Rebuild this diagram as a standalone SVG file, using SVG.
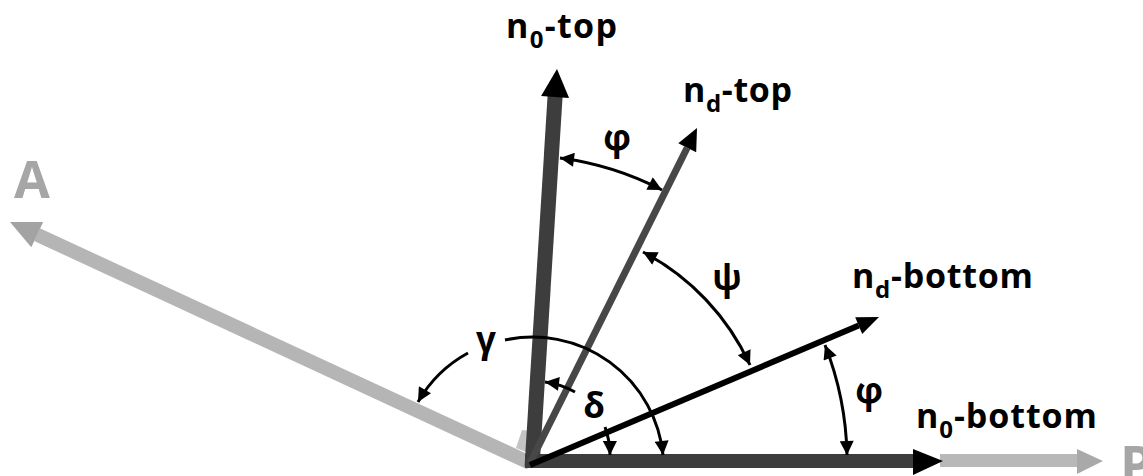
<svg xmlns="http://www.w3.org/2000/svg" width="1143" height="476" viewBox="0 0 1143 476">
<style>
.lbl{font-family:"Open Sans","Liberation Sans",sans-serif;font-weight:bold;font-size:34px;fill:#000}
.sub{font-size:24px}
.gr{font-family:"Open Sans","Liberation Sans",sans-serif;font-weight:bold;font-size:35px;fill:#000;text-anchor:middle}
.big{font-family:"Open Sans","Liberation Sans",sans-serif;font-weight:bold;font-size:52px;fill:#a6a6a6}
.arc{fill:none;stroke:#000;stroke-width:3}
</style>
<defs>
<marker id="ah" viewBox="0 0 10 10" refX="10" refY="5" markerWidth="16" markerHeight="14" markerUnits="userSpaceOnUse" orient="auto-start-reverse">
<path d="M0,0 L10,5 L0,10 z" fill="#000"/>
</marker>
</defs>
<rect width="1143" height="476" fill="#fff"/>
<g id="vec-A">
<polygon points="516,448 522,430 531,431 531,454" fill="#c4c4c4"/>
<line x1="530" y1="463" x2="37" y2="234.6" stroke="#b5b5b5" stroke-width="14"/>
<polygon points="10,222 43.1,221.9 31.3,247.3" fill="#a3a3a3"/>
</g>
<g id="vec-P">
<rect x="940" y="454" width="138" height="13" fill="#b8b8b8"/>
<polygon points="1077,449 1103,461 1077,474" fill="#a9a9a9"/>
</g>
<g id="vec-n0-bottom">
<rect x="525" y="454" width="390" height="14" fill="#3d3d3d"/>
<polygon points="913,449 943,461 913,475" fill="#000"/>
</g>
<g id="vec-n0-top">
<line x1="532" y1="467" x2="555.1" y2="96" stroke="#3d3d3d" stroke-width="15"/>
<polygon points="557,69 569.1,97.9 541.1,95.9" fill="#000"/>
</g>
<g id="vec-nd-top">
<line x1="530" y1="463" x2="687.2" y2="147.7" stroke="#474747" stroke-width="7"/>
<polygon points="697,128 696.2,152.2 678.3,143.2" fill="#000"/>
</g>
<g id="vec-nd-bottom">
<line x1="530" y1="465" x2="858.7" y2="325.6" stroke="#000" stroke-width="6"/>
<polygon points="879,317 862.2,333.9 855.2,317.3" fill="#000"/>
</g>
<g id="connectors">
<path class="arc" d="M560,158 A307 307 0 0 1 662,190" marker-start="url(#ah)" marker-end="url(#ah)"/>
<path class="arc" d="M643,252 A241 241 0 0 1 750,365" marker-start="url(#ah)" marker-end="url(#ah)"/>
<path class="arc" d="M825,345 A318 318 0 0 1 847,455" marker-start="url(#ah)" marker-end="url(#ah)"/>
<path class="arc" d="M468,353 A128 128 0 0 0 418,402" marker-end="url(#ah)"/>
<path class="arc" d="M505,340 A131 131 0 0 1 663,455" marker-end="url(#ah)"/>
<path class="arc" d="M575,392 A84 84 0 0 0 545,382" marker-end="url(#ah)"/>
<path class="arc" d="M605,427 A83 83 0 0 1 610,455" marker-end="url(#ah)"/>
</g>
<g id="label-n0-top"><text class="lbl" x="506" y="38" textLength="111">n<tspan class="sub" dy="10">0</tspan><tspan dy="-10">-top</tspan></text></g>
<g id="label-nd-top"><text class="lbl" x="683" y="102" textLength="109">n<tspan class="sub" dy="10">d</tspan><tspan dy="-10">-top</tspan></text></g>
<g id="label-nd-bottom"><text class="lbl" x="852" y="288" textLength="181">n<tspan class="sub" dy="10">d</tspan><tspan dy="-10">-bottom</tspan></text></g>
<g id="label-n0-bottom"><text class="lbl" x="916" y="428" textLength="181">n<tspan class="sub" dy="10">0</tspan><tspan dy="-10">-bottom</tspan></text></g>
<g id="label-A"><text class="big" x="14" y="198">A</text></g>
<g id="label-P"><text class="big" x="1120" y="483">P</text></g>
<g id="angle-labels">
<text class="gr" x="617" y="150">φ</text>
<text class="gr" x="727" y="290">ψ</text>
<text class="gr" x="486" y="352">γ</text>
<text class="gr" x="594" y="418">δ</text>
<text class="gr" x="869" y="403">φ</text>
</g>
</svg>
